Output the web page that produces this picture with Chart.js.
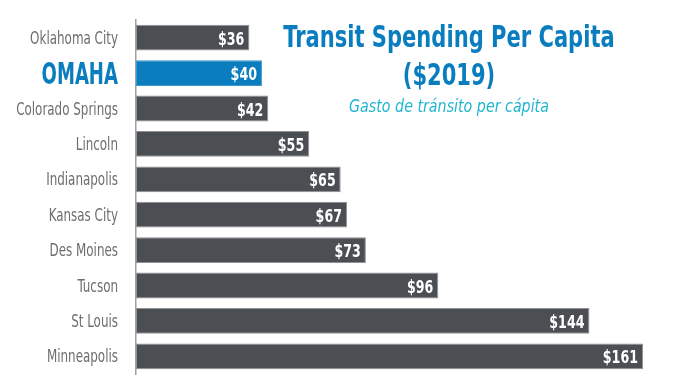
<!DOCTYPE html>
<html>
<head>
<meta charset="utf-8">
<script src="https://cdn.jsdelivr.net/npm/chart.js@4"></script>
<style>
  html, body { margin: 0; padding: 0; background: #fff; }
  #wrap { width: 699px; height: 391px; }
</style>
</head>
<body>
<div id="wrap"><canvas id="myChart" width="699" height="391"></canvas></div>
<script>
// data
var cities = ['Oklahoma City', 'OMAHA', 'Colorado Springs', 'Lincoln', 'Indianapolis',
              'Kansas City', 'Des Moines', 'Tucson', 'St Louis', 'Minneapolis'];
var spending = [36, 40, 42, 55, 65, 67, 73, 96, 144, 161];
var highlight = 'OMAHA';

var titleLines = ['Transit Spending Per Capita', '($2019)'];
var subTitle = 'Gasto de tránsito per cápita';

var FONT = '"DejaVu Sans Condensed", "Liberation Sans Narrow", sans-serif';
var BLUE = '#0a7dbf';
var NARROW = 0.78;   // squeeze text to look like a condensed face

var barColors = cities.map(function(c){ return c === highlight ? BLUE : '#4b4e53'; });
var edgeColors = cities.map(function(c){ return c === highlight ? '#3b98cf' : '#8f9195'; });

function squeezed(ctx, text, x, y, align, sx){
  ctx.save();
  ctx.translate(x, y);
  ctx.scale(sx, 1);
  ctx.textAlign = align;
  ctx.fillText(text, 0, 0);
  ctx.restore();
}

// city names, $ labels inside bar ends, title block
var labelsPlugin = {
  id: 'labels',
  afterDatasetsDraw: function(chart){
    var ctx = chart.ctx;
    var meta = chart.getDatasetMeta(0);
    var yScale = chart.scales.y;
    ctx.save();
    ctx.textBaseline = 'alphabetic';

    cities.forEach(function(c, i){
      var y = yScale.getPixelForValue(i);
      if (c === highlight) {
        ctx.fillStyle = BLUE;
        ctx.font = 'bold 30px ' + FONT;
        squeezed(ctx, c, 118, y + 11, 'right', 0.67);
      } else {
        ctx.fillStyle = '#6d6e71';
        ctx.font = '17px ' + FONT;
        squeezed(ctx, c, 118, y + 6, 'right', NARROW);
      }
    });

    ctx.fillStyle = '#fff';
    ctx.font = 'bold 18px ' + FONT;
    meta.data.forEach(function(bar, i){
      squeezed(ctx, '$' + spending[i], bar.x - 5, bar.y + 7, 'right', NARROW);
    });

    // title
    var cx = 449;
    ctx.fillStyle = BLUE;
    ctx.font = 'bold 30px ' + FONT;
    squeezed(ctx, titleLines[0], cx, 47, 'center', NARROW);
    squeezed(ctx, titleLines[1], cx, 85, 'center', NARROW);
    ctx.fillStyle = '#22b5d0';
    ctx.font = 'italic 18px ' + FONT;
    squeezed(ctx, subTitle, cx, 112, 'center', 0.88);
    ctx.restore();
  }
};

var ctx = document.getElementById('myChart').getContext('2d');
var chart = new Chart(ctx, {
  type: 'bar',
  data: {
    labels: cities,
    datasets: [{
      data: spending,
      backgroundColor: barColors,
      borderColor: edgeColors,
      borderWidth: 1,
      borderSkipped: false,
      barPercentage: 0.73,
      categoryPercentage: 1
    }]
  },
  options: {
    indexAxis: 'y',
    responsive: false,
    animation: false,
    layout: { padding: { top: 20, bottom: 17, right: 13.5, left: 0 } },
    plugins: { legend: { display: false }, tooltip: { enabled: false } },
    scales: {
      x: { display: false, min: 0, max: 174.5 },
      y: {
        afterFit: function(scale){ scale.width = 136; },
        grid: { display: false, drawTicks: false },
        border: { display: true, color: '#a0a0a0', width: 1.5 },
        ticks: { display: false }
      }
    }
  },
  plugins: [labelsPlugin]
});
</script>
</body>
</html>
